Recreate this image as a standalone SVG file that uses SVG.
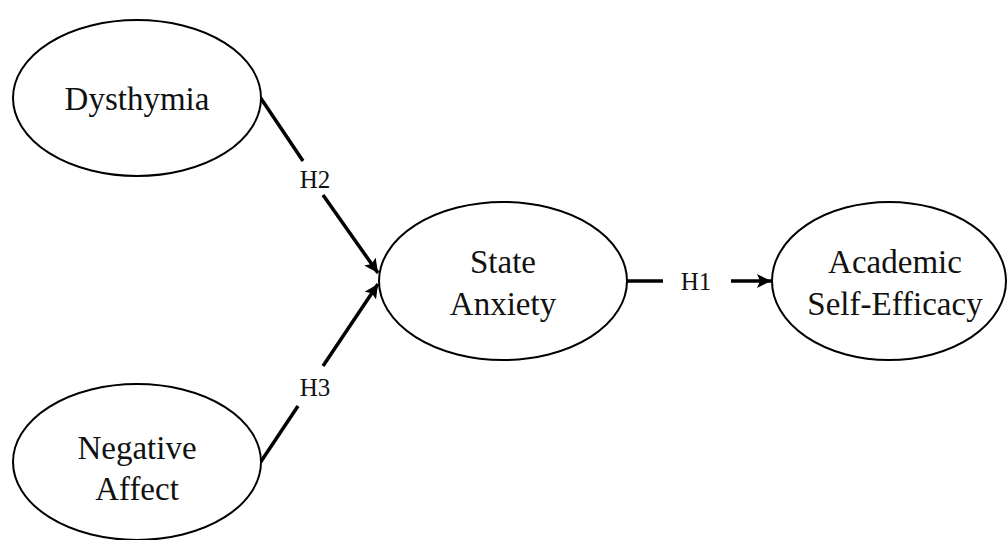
<svg xmlns="http://www.w3.org/2000/svg" width="1007" height="540" viewBox="0 0 1007 540">
<style>
.node ellipse{fill:#fff;stroke:#000;stroke-width:2}
.lbl{font-family:"Liberation Serif","Times New Roman",serif;font-size:33px;fill:#111;text-anchor:middle}
.h{font-family:"Liberation Serif","Times New Roman",serif;font-size:25px;fill:#111;text-anchor:middle}
.edge{stroke:#000;stroke-width:3.5;fill:none}
</style>
<defs>
<marker id="arr" markerUnits="userSpaceOnUse" markerWidth="16" markerHeight="14" refX="14" refY="7" orient="auto">
<path d="M0,0 L14,7 L0,14 L3,7 Z" fill="#000"/>
</marker>
</defs>
<rect width="1007" height="540" fill="#fff"/>
<g id="connectors">
<line class="edge" x1="260" y1="97" x2="303" y2="161"/>
<line class="edge" x1="323" y1="195" x2="378" y2="273" marker-end="url(#arr)"/>
<line class="edge" x1="260" y1="463" x2="298" y2="406"/>
<line class="edge" x1="323" y1="366" x2="378" y2="284" marker-end="url(#arr)"/>
<line class="edge" x1="627" y1="281" x2="663" y2="281"/>
<line class="edge" x1="731" y1="281" x2="771" y2="281" marker-end="url(#arr)"/>
<text class="h" x="315" y="188">H2</text>
<text class="h" x="315" y="396">H3</text>
<text class="h" x="696" y="290">H1</text>
</g>
<g id="dysthymia" class="node">
<ellipse cx="137" cy="98" rx="124" ry="78"/>
<text class="lbl" x="137" y="110">Dysthymia</text>
</g>
<g id="negative-affect" class="node">
<ellipse cx="137" cy="462" rx="124" ry="78"/>
<text class="lbl" x="137" y="459">Negative</text>
<text class="lbl" x="137" y="500">Affect</text>
</g>
<g id="state-anxiety" class="node">
<ellipse cx="503" cy="281" rx="124" ry="79"/>
<text class="lbl" x="503" y="273">State</text>
<text class="lbl" x="503" y="315">Anxiety</text>
</g>
<g id="academic-self-efficacy" class="node">
<ellipse cx="889" cy="281" rx="117" ry="79"/>
<text class="lbl" x="895" y="273">Academic</text>
<text class="lbl" x="895" y="315">Self-Efficacy</text>
</g>
</svg>
